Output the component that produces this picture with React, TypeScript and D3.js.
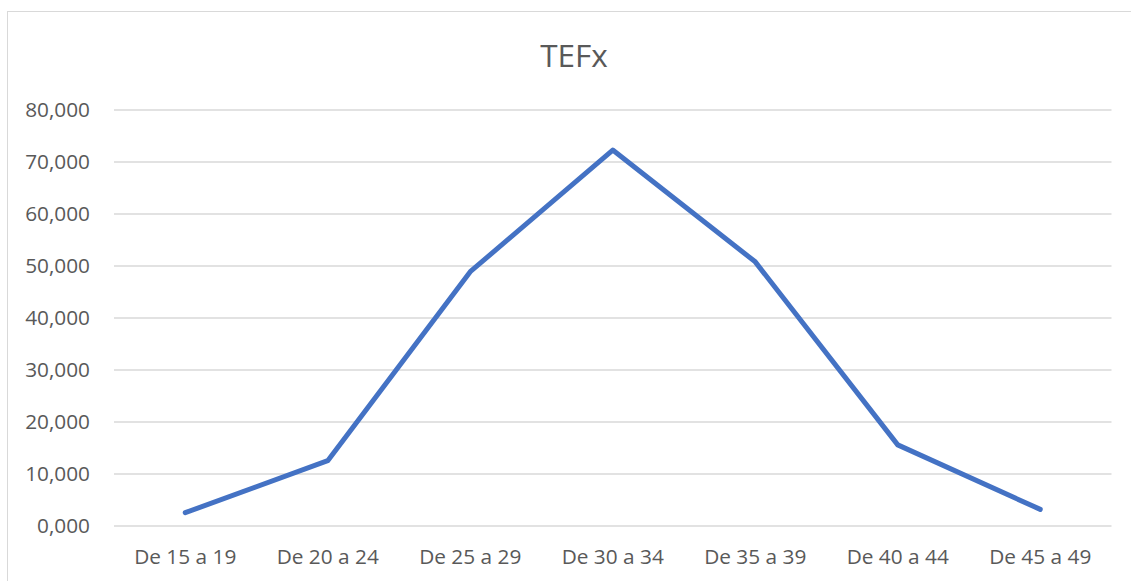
import React from "react";
import * as d3 from "d3";

const categories = ["De 15 a 19", "De 20 a 24", "De 25 a 29", "De 30 a 34", "De 35 a 39", "De 40 a 44", "De 45 a 49"];
const values = [2.56, 12.56, 48.9, 72.3, 50.8, 15.6, 3.2];
const yTicks = [0, 10, 20, 30, 40, 50, 60, 70, 80];
const title = "TEFx";

const W = 1131;
const H = 581;
const plot = { left: 114, right: 1111.5, top: 110, bottom: 526 };
const FONT = "'Open Sans', sans-serif";
const TEXT = "#595959";

const loc = d3.formatLocale({ decimal: ",", thousands: ".", grouping: [3], currency: ["", ""] });
const fmt = loc.format(".3f");

export default function App() {
  const x = d3.scaleBand<string>().domain(categories).range([plot.left, plot.right]).padding(0);
  const y = d3.scaleLinear().domain([0, 80]).range([plot.bottom, plot.top]);
  const line = d3
    .line<number>()
    .x((_, i) => (x(categories[i]) as number) + x.bandwidth() / 2)
    .y((d) => y(d));

  return (
    <svg
      width={W}
      height={H}
      style={{ position: "absolute", left: 0, top: 0, background: "#fff" }}
      fontFamily={FONT}
    >
      <rect x={7.5} y={11.5} width={W + 20} height={H + 20} fill="#fff" stroke="#d9d9d9" strokeWidth={1} />
      <text x={574} y={67} textAnchor="middle" fontSize={31.5} fill={TEXT}>
        {title}
      </text>
      {yTicks.map((t) => (
        <g key={t}>
          <line x1={plot.left} x2={plot.right} y1={y(t)} y2={y(t)} stroke="#d9d9d9" strokeWidth={1.3} />
          <text x={90} y={y(t)} dy="0.33em" textAnchor="end" fontSize={20.8} fill={TEXT}>
            {fmt(t)}
          </text>
        </g>
      ))}
      {categories.map((c) => (
        <text
          key={c}
          x={(x(c) as number) + x.bandwidth() / 2}
          y={563.5}
          textAnchor="middle"
          fontSize={20.8}
          fill={TEXT}
        >
          {c}
        </text>
      ))}
      <path
        d={line(values) || ""}
        fill="none"
        stroke="#4472C4"
        strokeWidth={5}
        strokeLinejoin="round"
        strokeLinecap="round"
      />
    </svg>
  );
}
